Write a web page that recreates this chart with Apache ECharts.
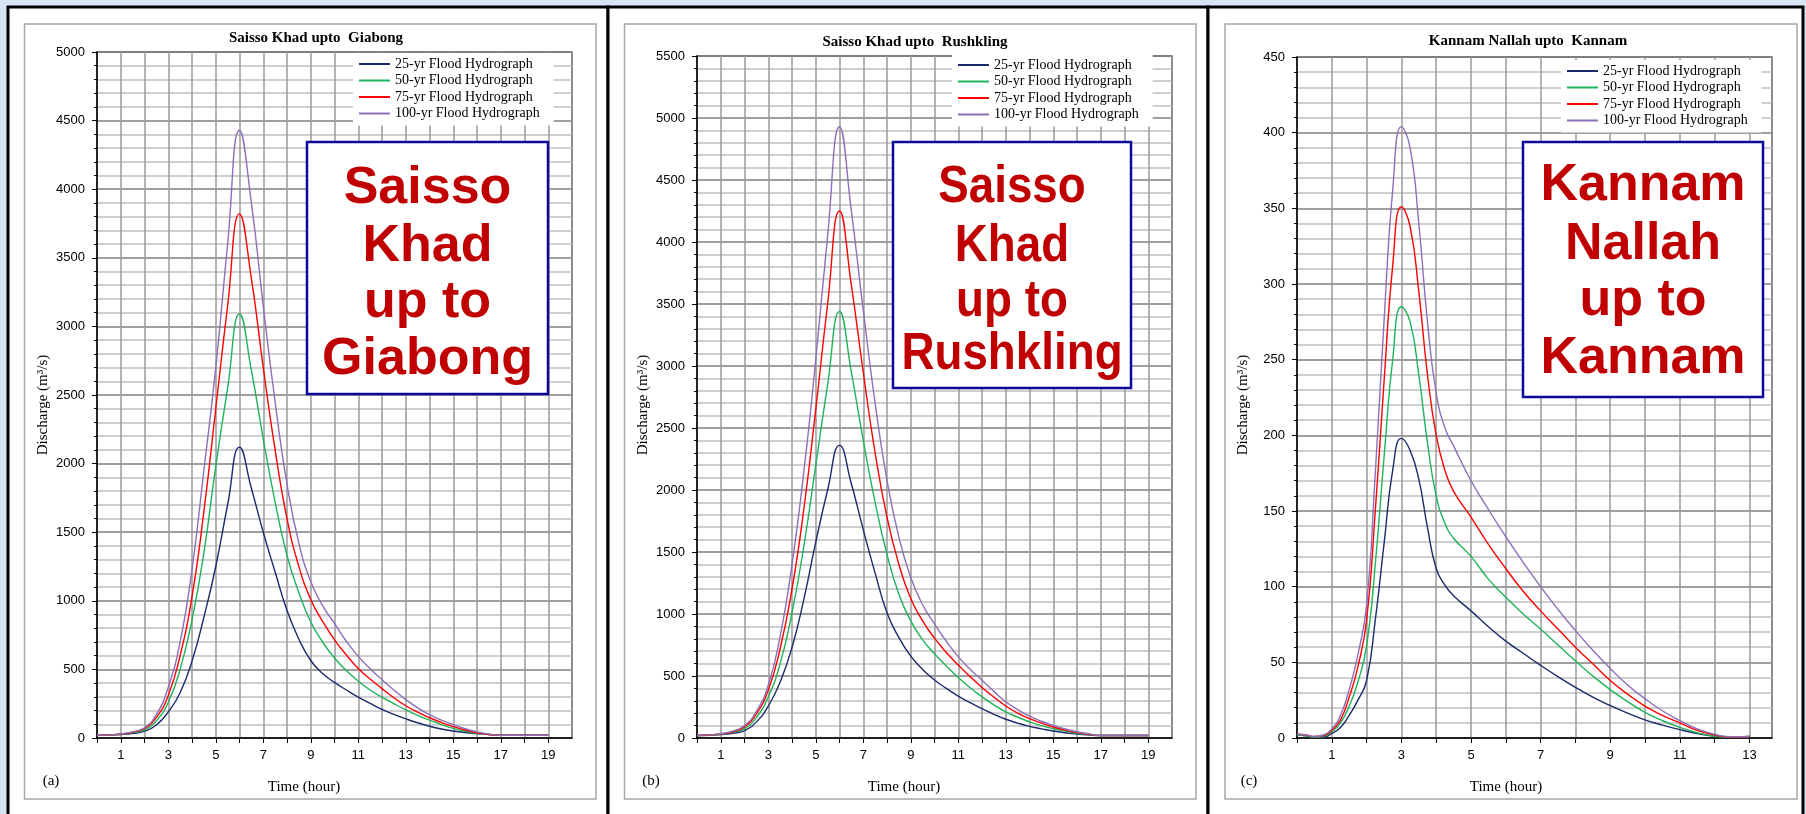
<!DOCTYPE html>
<html><head><meta charset="utf-8">
<script src="https://cdn.jsdelivr.net/npm/echarts@6/dist/echarts.min.js"></script>
<style>html,body{margin:0;padding:0;background:#d6e5f4;} #c{width:1806px;height:814px;}</style>
</head><body><div id="c"></div>
<script>
const seriesNames = ['25-yr Flood Hydrograph','50-yr Flood Hydrograph','75-yr Flood Hydrograph','100-yr Flood Hydrograph'];
const seriesColors = ['#1b2a6b','#1fb25a','#ff0000','#8c6fb8'];

// Panel (a) Saisso Khad upto Giabong
const timeA = [0,0.5,1,1.5,2,2.5,3,3.5,4,4.5,5,5.5,6,6.5,7,7.5,8,8.5,9,9.5,10,10.5,11,11.5,12,12.5,13,13.5,14,14.5,15,15.5,16,16.5,17,17.5,18,18.5,19];
const a25  = [20,22,25,33,50,95,190,330,560,880,1250,1700,2120,1820,1500,1210,930,720,565,470,405,350,298,252,208,172,140,111,86,66,51,40,32,25,20,20,20,20,20];
const a50  = [20,22,27,38,60,125,260,500,860,1350,1980,2550,3090,2680,2180,1720,1330,1060,845,700,583,492,415,350,298,250,205,165,130,98,70,49,34,25,20,20,20,20,20];
const a75  = [20,23,28,42,70,150,310,600,1030,1650,2400,3150,3820,3350,2700,2100,1600,1250,1010,850,715,605,507,430,360,293,235,188,148,113,83,58,38,26,20,20,20,20,20];
const a100 = [20,23,30,45,75,170,370,700,1230,1950,2700,3600,4430,3900,3150,2450,1850,1420,1140,965,835,705,595,505,425,350,280,220,170,130,98,68,45,29,20,20,20,20,20];

// Panel (b) Saisso Khad upto Rushkling
const timeB = [0,0.5,1,1.5,2,2.5,3,3.5,4,4.5,5,5.5,6,6.5,7,7.5,8,8.5,9,9.5,10,10.5,11,11.5,12,12.5,13,13.5,14,14.5,15,15.5,16,16.5,17,17.5,18,18.5,19];
const b25  = [20,22,27,38,60,130,256,450,730,1120,1580,2000,2360,2050,1680,1330,1010,810,660,553,468,400,338,285,237,191,151,120,94,74,56,42,31,24,20,20,20,20,20];
const b50  = [20,23,30,45,75,165,330,600,1010,1550,2200,2850,3440,2950,2400,1900,1480,1160,945,792,680,580,488,405,332,267,211,168,131,100,75,55,38,27,20,20,20,20,20];
const b75  = [20,24,32,50,90,195,385,720,1200,1850,2650,3500,4250,3650,2950,2300,1780,1400,1125,945,805,690,588,495,408,330,258,201,156,120,89,64,44,30,20,20,20,20,20];
const b100 = [20,25,34,55,100,215,425,820,1400,2150,3050,4050,4930,4250,3450,2700,2080,1620,1295,1075,920,780,656,555,466,376,292,229,176,135,102,73,50,33,20,20,20,20,20];

// Panel (c) Kannam Nallah upto Kannam
const timeC = [0,0.25,0.5,0.75,1,1.25,1.5,1.75,2,2.25,2.5,2.75,3,3.25,3.5,3.75,4,4.25,4.5,5,5.5,6,6.5,7,7.5,8,8.5,9,9.5,10,10.5,11,11.5,12,12.5,13];
const c25  = [2,1.5,0.5,0.5,3,7,15,25,38,78,128,177,198,190,171,139,112,101,94,84,73.5,64,56,48,40.5,33.5,27,21.5,16.5,12,8.5,5.5,3,1.2,0.5,1];
const c50  = [2,1.5,0.5,1,4,10,21,37,61,115,185,250,285,275,240,195,160,142,132,120,105,93,82,72,61.5,51,41,32,24,17,11.5,7,3.5,1.2,0.5,1];
const c75  = [2.5,2,1,1.5,5,12,27,47,78,150,235,312,351,338,295,240,200,177,163,146,128,112,97,84,72,60,49,38,29,21,15,10,5,2,0.6,1];
const c100 = [2.5,2,1,2,6,15,32,55,88,175,275,362,404,390,340,275,228,205,193,170,151,133,116,100,85,71,58,46,35,26,18,11.5,6,2.5,0.8,1];

// Axis settings
const yMaxes = [5000, 5500, 450];
const yIntervals = [500, 500, 50];
const xMaxes = [20, 20, 13.65];
const titles = ['Saisso Khad upto  Giabong', 'Saisso Khad upto  Rushkling', 'Kannam Nallah upto  Kannam'];
const panelTags = ['(a)', '(b)', '(c)'];
const boxTexts = [['Saisso','Khad','up to','Giabong'], ['Saisso','Khad','up to','Rushkling'], ['Kannam','Nallah','up to','Kannam']];
const xAxisName = 'Time (hour)';
const yAxisName = 'Discharge (m\u00b3/s)';

const panels = [
  {time: timeA, data: [a25, a50, a75, a100]},
  {time: timeB, data: [b25, b50, b75, b100]},
  {time: timeC, data: [c25, c50, c75, c100]}
];

// layout (pixels)
const L = [
  {frameX: 8, frameW: 600, grayX: 24.5, grayW: 571.5, gridL: 97, gridT: 52, titleX: 316, titleY: 38, tagX: 51, axNameX: 304, yNameX: 43,
   box: [307, 142, 241, 252], boxCx: 427.5, boxSx: 1, lineY: [189, 247, 303, 360], legL: 353, legT: 53},
  {frameX: 608, frameW: 600, grayX: 624.5, grayW: 571.5, gridL: 697, gridT: 56, titleX: 915, titleY: 42, tagX: 651, axNameX: 904, yNameX: 643,
   box: [893, 142, 238, 246], boxCx: 1012, boxSx: 0.88, lineY: [188, 247, 302, 355], legL: 952, legT: 54},
  {frameX: 1208, frameW: 595, grayX: 1225, grayW: 572, gridL: 1297, gridT: 57, titleX: 1528, titleY: 41, tagX: 1249, axNameX: 1506, yNameX: 1243,
   box: [1523, 142, 240, 255], boxCx: 1643, boxSx: 1, lineY: [186, 245, 301, 359], legL: 1561, legT: 60}
];

const serif = '"Liberation Serif", "Times New Roman", serif';
const sans = '"Liberation Sans", Arial, sans-serif';

const graphics = [];
L.forEach((p, i) => {
  graphics.push({type: 'rect', z: -20, shape: {x: p.frameX, y: 7, width: p.frameW, height: 830}, style: {fill: '#fff', stroke: '#000', lineWidth: 3}});
  graphics.push({type: 'rect', z: -19, shape: {x: p.grayX, y: 24, width: p.grayW, height: 775}, style: {fill: '#fff', stroke: '#a6a6a6', lineWidth: 1.5}});
  graphics.push({type: 'text', z: 10, x: p.titleX, y: p.titleY, style: {text: titles[i], font: 'bold 15px ' + serif, fill: '#000', align: 'center', verticalAlign: 'middle'}});
  graphics.push({type: 'text', z: 10, x: p.tagX, y: 781, style: {text: panelTags[i], font: '15px ' + serif, fill: '#000', align: 'center', verticalAlign: 'middle'}});
  graphics.push({type: 'text', z: 10, x: p.axNameX, y: 787, style: {text: xAxisName, font: '15px ' + serif, fill: '#000', align: 'center', verticalAlign: 'middle'}});
  graphics.push({type: 'text', z: 10, x: p.yNameX, y: 405, rotation: Math.PI / 2, style: {text: yAxisName, font: '15px ' + serif, fill: '#000', align: 'center', verticalAlign: 'middle'}});
  graphics.push({type: 'rect', z: 100, shape: {x: p.box[0], y: p.box[1], width: p.box[2], height: p.box[3]}, style: {fill: '#fff', stroke: '#0a0a96', lineWidth: 2.5}});
  boxTexts[i].forEach((t, k) => {
    graphics.push({type: 'text', z: 101, x: p.boxCx, y: p.lineY[k], scaleX: p.boxSx, style: {text: t, font: 'bold 52px ' + sans, fill: '#c00000', align: 'center', verticalAlign: 'middle'}});
  });
});

const grids = [], xAxes = [], yAxes = [], legends = [], series = [];
L.forEach((p, i) => {
  grids.push({left: p.gridL, top: p.gridT, width: 475, height: 738 - p.gridT, show: true, backgroundColor: '#fff', borderColor: '#000', borderWidth: 1.2, containLabel: false});
  xAxes.push({
    type: 'value', gridIndex: i, min: 0, max: xMaxes[i], interval: 1,
    axisLine: {show: true, onZero: false, lineStyle: {color: '#000', width: 1.5}},
    axisTick: {show: true, length: 5, lineStyle: {color: '#000'}},
    splitLine: {show: true, lineStyle: {color: '#9a9a9a', width: 1.5}},
    axisLabel: {margin: 11, fontFamily: sans, fontSize: 13, color: '#000', showMaxLabel: false,
      formatter: v => (Number.isInteger(v) && v % 2 === 1) ? String(v) : ''}
  });
  yAxes.push({
    type: 'value', gridIndex: i, min: 0, max: yMaxes[i], interval: yIntervals[i],
    axisLine: {show: true, onZero: false, lineStyle: {color: '#000', width: 1.5}},
    axisTick: {show: true, length: 5, lineStyle: {color: '#000'}},
    minorTick: {show: true, splitNumber: 5, length: 3, lineStyle: {color: '#000'}},
    splitLine: {show: true, lineStyle: {color: '#7f7f7f', width: 1.5}},
    minorSplitLine: {show: true, lineStyle: {color: '#cfcfcf', width: 2}},
    axisLabel: {margin: 12, fontFamily: sans, fontSize: 13, color: '#000', formatter: v => String(v)}
  });
  legends.push({
    orient: 'vertical', left: p.legL, top: p.legT, data: seriesNames,
    icon: 'rect', itemWidth: 31, itemHeight: 2, itemGap: 0.5, itemTextGap: 5,
    padding: [3, 14, 4, 6], backgroundColor: '#fff',
    textStyle: {fontFamily: serif, fontSize: 14, lineHeight: 16, color: '#000'}
  });
  panels[i].data.forEach((arr, k) => {
    series.push({
      type: 'line', name: seriesNames[k], xAxisIndex: i, yAxisIndex: i,
      data: panels[i].time.map((t, j) => [t, arr[j]]),
      symbol: 'none', smooth: 0.5,
      lineStyle: {color: seriesColors[k], width: 1.4}, itemStyle: {color: seriesColors[k]}
    });
  });
});

const chart = echarts.init(document.getElementById('c'));
chart.setOption({
  animation: false,
  backgroundColor: 'transparent',
  graphic: {elements: graphics},
  grid: grids, xAxis: xAxes, yAxis: yAxes, legend: legends, series: series
});
</script>
</body></html>
